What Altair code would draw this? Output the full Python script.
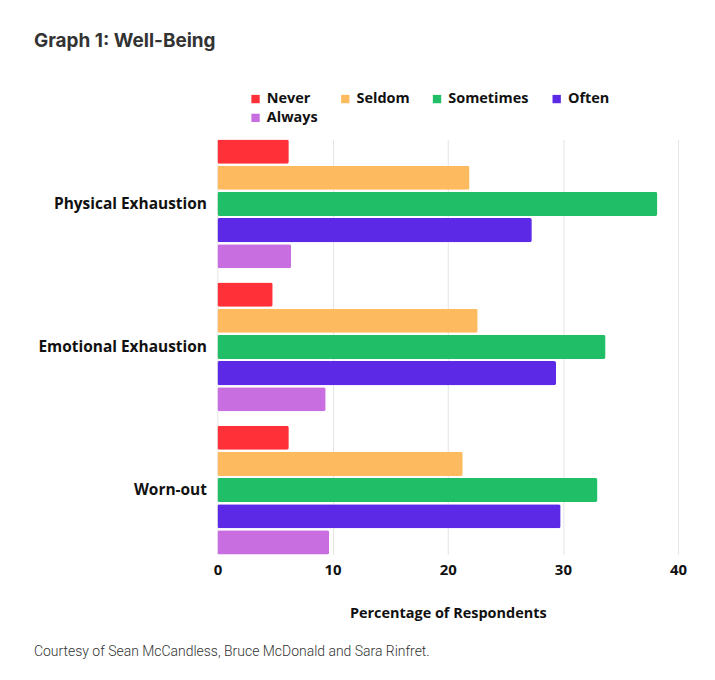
import altair as alt
import pandas as pd

measures = ["Physical Exhaustion", "Emotional Exhaustion", "Worn-out"]
levels = ["Never", "Seldom", "Sometimes", "Often", "Always"]
colors = ["#FF3038", "#FDBA5F", "#20BF67", "#5C2AE6", "#C86EE0"]
values = {
    "Physical Exhaustion": [6.2, 21.9, 38.2, 27.3, 6.4],
    "Emotional Exhaustion": [4.8, 22.6, 33.7, 29.4, 9.4],
    "Worn-out": [6.2, 21.3, 33.0, 29.8, 9.7],
}
x_ticks = [0, 10, 20, 30, 40]
caption = ["Courtesy of Sean McCandless, Bruce McDonald and Sara Rinfret."]

rows = []
for m in measures:
    for lvl, v in zip(levels, values[m]):
        rows.append({"measure": m, "level": lvl, "pct": v})
df = pd.DataFrame(rows)

W, H = 462, 416

bars = alt.Chart(df).mark_bar(cornerRadius=2).encode(
    x=alt.X("pct:Q", scale=alt.Scale(domain=[0, 40], nice=False),
            axis=alt.Axis(values=x_ticks, title="Percentage of Respondents",
                          grid=True, gridColor="#E4E4E4", domain=False, ticks=False,
                          labelFlush=False,
                          labelFont="Open Sans", labelFontWeight="bold", labelFontSize=15,
                          labelColor="#111", labelPadding=8,
                          titleFont="Open Sans", titleFontWeight="bold", titleFontSize=14.5,
                          titleColor="#111", titlePadding=29)),
    y=alt.Y("measure:N", sort=measures,
            scale=alt.Scale(paddingInner=0.1, paddingOuter=0.0),
            axis=alt.Axis(title=None, domain=False, ticks=False, minExtent=184,
                          labelFont="Open Sans", labelFontWeight="bold", labelFontSize=15.5,
                          labelColor="#111", labelPadding=11, labelBaseline="middle")),
    yOffset=alt.YOffset("level:N", sort=levels,
                        scale=alt.Scale(paddingInner=0.08, paddingOuter=0)),
    color=alt.Color("level:N", sort=levels,
                    scale=alt.Scale(domain=levels, range=colors),
                    legend=alt.Legend(title=None, orient="none", legendX=31, legendY=-48,
                                      direction="horizontal", columns=4,
                                      symbolType="square", symbolSize=70,
                                      symbolStrokeWidth=0, columnPadding=20, rowPadding=4,
                                      labelFont="Open Sans", labelFontWeight="bold",
                                      labelFontSize=14.5, labelColor="#111")),
)

cap = alt.Chart(pd.DataFrame({"t": caption})).mark_text(
    align="left", baseline="middle", font="Roboto", fontSize=14, color="#333",
    fontWeight=300,
).encode(text="t:N", x=alt.value(-184), y=alt.value(H + 98))

chart = alt.layer(bars, cap).properties(
    width=W, height=H,
    title=alt.TitleParams("Graph 1: Well-Being", anchor="start", frame="bounds",
                          font="Inter", fontSize=19, fontWeight="bold", color="#333",
                          offset=41),
    padding={"left": 26, "top": 23, "right": 20, "bottom": 4},
).configure_view(stroke=None)

chart.save("out.html", embed_options={"renderer": "svg", "actions": False})
